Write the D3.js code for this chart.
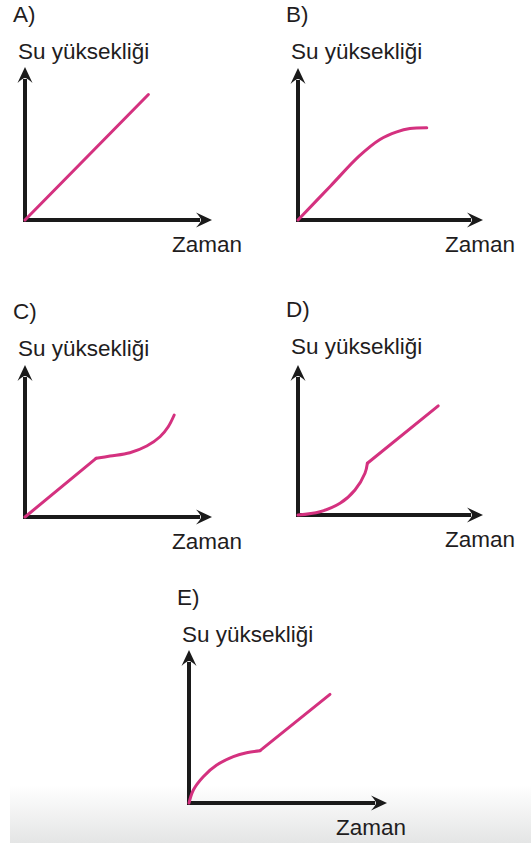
<!DOCTYPE html>
<html>
<head>
<meta charset="utf-8">
<script src="https://cdn.jsdelivr.net/npm/d3@7"></script>
<style>
  html, body { margin: 0; padding: 0; background: #fff; }
  svg { display: block; }
  text { font-family: "Liberation Sans", Arial, sans-serif; font-size: 22.5px; fill: #1f1d1e; }
</style>
</head>
<body>
<div id="chart"></div>
<script>

// Data: water height vs time, 0-10 on both axes
var panelLabels = ["A)", "B)", "C)", "D)", "E)"];
var yTitle = "Su yüksekliği";
var xTitle = "Zaman";

// straight part and bent part of each graph
var straightA = [[0, 0], [6.6, 8.2]];
var bendA = [];

var straightB = [];
var bendB = [[0, 0], [1.76, 2.24], [3.3, 4.2], [4.43, 5.3], [5.34, 5.8], [6.05, 6.02], [6.96, 6.07]];

var straightC = [[0, 0], [3.8, 3.86]];
var bendC = [[3.8, 3.86], [4.55, 4.01], [5.61, 4.23], [6.51, 4.67], [7.22, 5.28], [7.66, 5.94], [7.98, 6.71]];

var bendD = [[0, 0], [1.19, 0.22], [2.27, 0.78], [3.08, 1.67], [3.62, 2.78], [3.75, 3.45]];
var straightD = [[3.75, 3.45], [7.58, 7.27]];

var bendE = [[0, 0], [0.22, 0.85], [0.72, 1.72], [1.4, 2.48], [2.24, 3.03], [2.91, 3.29], [3.59, 3.42]];
var straightE = [[3.59, 3.42], [7.12, 7.1]];

var straights = [straightA, straightB, straightC, straightD, straightE];
var bends = [bendA, bendB, bendC, bendD, bendE];

// Layout *****
var width = 531, height = 843;
var frames = [
	{ ox: 25,  oy: 220, w: 187, h: 153 },
	{ ox: 298, oy: 220, w: 185, h: 152 },
	{ ox: 25,  oy: 517, w: 187, h: 152 },
	{ ox: 298, oy: 515, w: 185, h: 150 },
	{ ox: 189, oy: 803, w: 198, h: 153 }
];

var axisColor = "#1a1a1a";
var lineColor = "#d4317f";

var svg = d3.select("#chart").append("svg")
	.attr("width", width)
	.attr("height", height);

// grey shade at the bottom of the page
var grad = svg.append("defs").append("linearGradient")
	.attr("id", "shade")
	.attr("x1", 0).attr("y1", 0).attr("x2", 0).attr("y2", 1);
grad.append("stop").attr("offset", "0%").attr("stop-color", "#ffffff");
grad.append("stop").attr("offset", "100%").attr("stop-color", "#e4e5e5");

svg.append("rect")
	.attr("x", 10).attr("y", 785)
	.attr("width", width - 10).attr("height", height - 785)
	.attr("fill", "url(#shade)");

// arrowhead pointing right, tip at 0,0
var arrowPath = "M0,0 L-16,-7.5 Q-11,-2 -11,0 Q-11,2 -16,7.5 Z";

frames.forEach(function (f, i) {

	var x = d3.scaleLinear().domain([0, 10]).range([f.ox, f.ox + f.w]);
	var y = d3.scaleLinear().domain([0, 10]).range([f.oy, f.oy - f.h]);

	var g = svg.append("g").attr("class", "panel");

	// axes
	g.append("line")
		.attr("x1", x(0) - 2).attr("y1", y(0))
		.attr("x2", x(10) - 12).attr("y2", y(0))
		.attr("stroke", axisColor).attr("stroke-width", 4);
	g.append("line")
		.attr("x1", x(0)).attr("y1", y(0) + 2)
		.attr("x2", x(0)).attr("y2", y(10) + 12)
		.attr("stroke", axisColor).attr("stroke-width", 4);

	g.append("path")
		.attr("d", arrowPath)
		.attr("transform", "translate(" + x(10) + "," + y(0) + ")")
		.attr("fill", axisColor);
	g.append("path")
		.attr("d", arrowPath)
		.attr("transform", "translate(" + x(0) + "," + y(10) + ") rotate(-90)")
		.attr("fill", axisColor);

	// graph
	var straightLine = d3.line()
		.x(function (d) { return x(d[0]); })
		.y(function (d) { return y(d[1]); });
	var bentLine = d3.line()
		.x(function (d) { return x(d[0]); })
		.y(function (d) { return y(d[1]); })
		.curve(d3.curveCatmullRom.alpha(0.5));

	if (straights[i].length) {
		g.append("path")
			.attr("d", straightLine(straights[i]))
			.attr("fill", "none").attr("stroke", lineColor)
			.attr("stroke-width", 3).attr("stroke-linecap", "round");
	}
	if (bends[i].length) {
		g.append("path")
			.attr("d", bentLine(bends[i]))
			.attr("fill", "none").attr("stroke", lineColor)
			.attr("stroke-width", 3).attr("stroke-linecap", "round")
			.attr("stroke-linejoin", "round");
	}

	// texts
	g.append("text")
		.attr("x", f.ox - 12).attr("y", f.oy - 198)
		.text(panelLabels[i]);
	g.append("text")
		.attr("x", f.ox - 7).attr("y", f.oy - 161)
		.text(yTitle);
	g.append("text")
		.attr("x", f.ox + 147).attr("y", f.oy + 32)
		.text(xTitle);
});

</script>
</body>
</html>
